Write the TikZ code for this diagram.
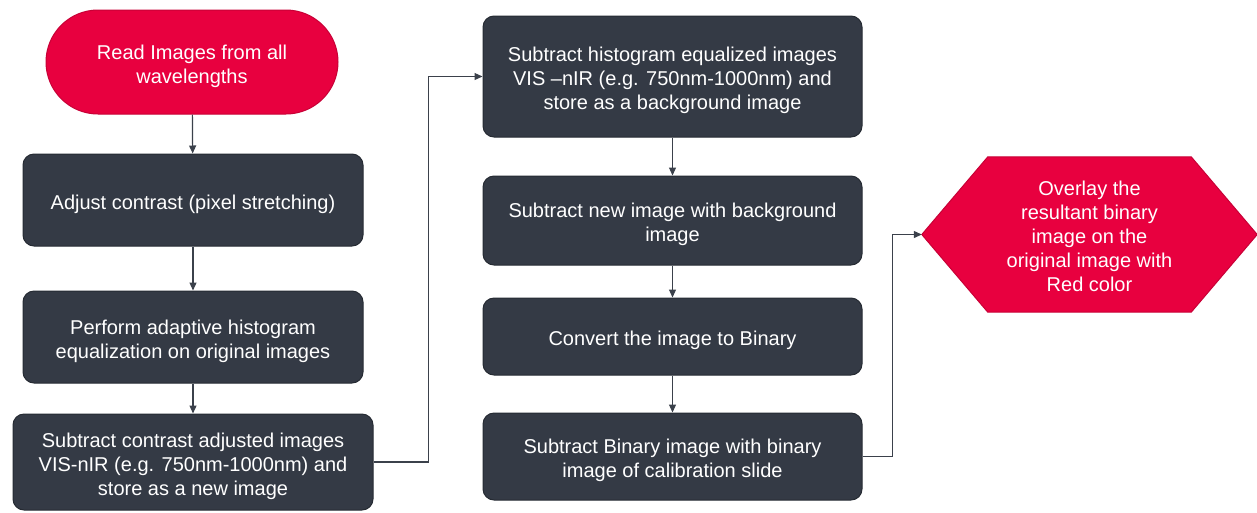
\documentclass[tikz,border=0pt]{standalone}
\usepackage{fontspec}
\setmainfont{Liberation Sans}
\usetikzlibrary{arrows.meta,calc}
\definecolor{crimson}{HTML}{E8003F}
\definecolor{crimsonedge}{HTML}{C80036}
\definecolor{slate}{HTML}{343A45}
\definecolor{slateedge}{HTML}{262B33}
\definecolor{linegray}{HTML}{3B414B}
\newcommand{\lowstrut}{\rule{0pt}{22.5pt}}
\begin{document}
\begin{tikzpicture}[x=1pt,y=-1pt,
  every node/.style={font=\fontsize{20}{24}\selectfont, text=white, align=center, inner sep=0pt},
  procbox/.style={rectangle, rounded corners=11pt, fill=slate, draw=slateedge, line width=1pt},
  termbox/.style={rectangle, rounded corners=52pt, fill=crimson, draw=crimsonedge, line width=1pt},
  flow/.style={draw=linegray, line width=1.2pt, -{Triangle[length=8pt,width=7pt]}}
]
\useasboundingbox (0,0) rectangle (1257,512);
\node[termbox, minimum width=292pt, minimum height=104pt] (start) at (192,62) {\lowstrut Read Images from all\\wavelengths};
\node[procbox, minimum width=340pt, minimum height=92pt] (b1) at (193,200) {\lowstrut Adjust contrast (pixel stretching)};
\node[procbox, minimum width=340pt, minimum height=92pt] (b2) at (193,337) {\lowstrut Perform adaptive histogram\\equalization on original images};
\node[procbox, minimum width=360pt, minimum height=96pt] (b3) at (193,462) {\lowstrut Subtract contrast adjusted images\\VIS-nIR (e.g. 750nm-1000nm) and\\store as a new image};
\node[procbox, minimum width=379pt, minimum height=121pt] (b4) at (672.5,76.5) {\lowstrut Subtract histogram equalized images\\VIS –nIR (e.g. 750nm-1000nm) and\\store as a background image};
\node[procbox, minimum width=379pt, minimum height=89pt] (b5) at (672.5,220.5) {\lowstrut Subtract new image with background\\image};
\node[procbox, minimum width=379pt, minimum height=77pt] (b6) at (672.5,336.5) {\lowstrut Convert the image to Binary};
\node[procbox, minimum width=379pt, minimum height=87pt] (b7) at (672.5,456.5) {\lowstrut Subtract Binary image with binary\\image of calibration slide};
\node[minimum width=335pt, minimum height=155pt] (hex) at (1089.5,234.5) {};
\fill[crimson, draw=crimsonedge, line width=1pt]
  (hex.west) -- ($(hex.north west)+(66,0)$) -- ($(hex.north east)+(-66,0)$) -- (hex.east)
  -- ($(hex.south east)+(-66,0)$) -- ($(hex.south west)+(66,0)$) -- cycle;
\node (hextext) at (1089.5,236) {Overlay the\\resultant binary\\image on the\\original image with\\Red color};
\draw[flow] (start) -- (b1);
\draw[flow] (b1) -- (b2);
\draw[flow] (b2) -- (b3);
\draw[flow] (b3.east) -- ++(55,0) |- (b4.west);
\draw[flow] (b4) -- (b5);
\draw[flow] (b5) -- (b6);
\draw[flow] (b6) -- (b7);
\draw[flow] (b7.east) -- ++(30,0) |- (hex.west);
\end{tikzpicture}
\end{document}
